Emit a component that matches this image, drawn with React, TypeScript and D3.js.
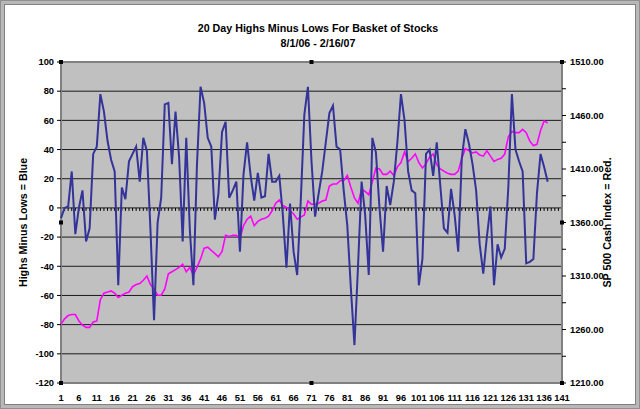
import React from "react";
import * as d3 from "d3";

const categoryCount = 141;
const categoryLabels = d3.range(1, 142, 5).map(String);
const leftTicks = [100, 80, 60, 40, 20, 0, -20, -40, -60, -80, -100, -120];
const rightTicks = [1510, 1485, 1460, 1435, 1410, 1385, 1360, 1335, 1310, 1285, 1260, 1235, 1210];
const rightLabels = [1510, 1460, 1410, 1360, 1310, 1260, 1210];

const highsMinusLows = [
  -7, 0, 1, 25, -18, 0, 12, -23, -14, 37,
  42, 78, 66, 46, 33, 25, -53, 14, 6, 32,
  37, 42, 18, 48, 39, -15, -77, -10, 7, 71,
  72, 30, 66, 35, -23, 48, -15, -53, 30, 83,
  72, 48, 42, -8, 10, 52, 59, 7, 12, 18,
  -30, 23, 45, 22, 5, 24, 7, 8, 37, 18,
  18, 22, -5, -41, 3, -30, -46, 5, 64, 83,
  32, -6, 10, 25, 45, 65, 70, 42, 40, 12,
  -12, -55, -94, -40, 18, -5, -46, 48, 38, 0,
  -30, 15, 2, 18, 45, 78, 60, 25, 12, 10,
  -53, -35, 37, 40, 22, 45, 15, -14, -17, 13,
  -5, -30, 34, 54, 44, 30, 12, -25, -45, -20,
  1, -53, -25, -34, -28, 14, 78, 40, 32, 25,
  -38, -37, -35, 10, 37, 28, 18,
];

const sp500 = [
  1265, 1270, 1273, 1274, 1274, 1268, 1264, 1262, 1262, 1267,
  1268, 1288, 1294, 1295, 1296, 1294, 1290, 1292, 1294, 1295,
  1300, 1302, 1303, 1306, 1310, 1302, 1298, 1292, 1292, 1298,
  1312, 1314, 1316, 1318, 1321, 1314, 1318, 1311, 1318, 1326,
  1336, 1337, 1334, 1331, 1328, 1333, 1348, 1347, 1348, 1348,
  1345, 1357, 1363, 1366, 1357, 1361, 1363, 1364, 1366, 1371,
  1378, 1381, 1376, 1374, 1371, 1368, 1363, 1365, 1367, 1380,
  1377, 1377, 1378, 1380, 1381, 1394, 1396, 1396, 1399, 1399,
  1404, 1393, 1383, 1378, 1391, 1389, 1386, 1398, 1411, 1410,
  1405, 1405, 1408, 1404, 1412, 1416, 1426, 1417, 1420, 1424,
  1416, 1411, 1415, 1421, 1424, 1414, 1410, 1408, 1406, 1405,
  1405, 1408, 1420, 1429, 1427, 1425, 1426, 1423, 1422, 1427,
  1422, 1417, 1419, 1420, 1424, 1440, 1445, 1444, 1444, 1447,
  1444, 1436, 1432, 1433, 1446, 1455, 1453,
];

const W = 640;
const H = 409;
const L = 61;
const R = 562;
const T = 62;
const B = 383;
const font = "'Liberation Sans', Arial, sans-serif";

export default function App() {
  const x = d3.scaleLinear().domain([1, categoryCount]).range([L, R]);
  const yL = d3.scaleLinear().domain([-120, 100]).range([B, T]);
  const yR = d3.scaleLinear().domain([1210, 1510]).range([B, T]);

  const blueLine = d3
    .line<number>()
    .x((_, i) => x(i + 1))
    .y((d) => yL(d))(highsMinusLows) as string;
  const pinkLine = d3
    .line<number>()
    .x((_, i) => x(i + 1))
    .y((d) => yR(d))(sp500) as string;

  const handles = [
    [L, T], [(L + R) / 2, T], [R, T],
    [L, (T + B) / 2], [R, (T + B) / 2],
    [L, B], [(L + R) / 2, B], [R, B],
  ];

  return (
    <svg
      width={W}
      height={H}
      style={{ position: "absolute", left: 0, top: 0, background: "#fff" }}
      fontFamily={font}
    >
      <rect x={0} y={0} width={W} height={H} fill="#fff" />
      <rect x={2} y={2} width={W - 4} height={H - 4} fill="none" stroke="#b8b8b8" strokeWidth={4} />
      <rect x={0.5} y={0.5} width={W - 1} height={H - 1} fill="none" stroke="#909090" strokeWidth={1} />
      <rect x={4.5} y={4.5} width={W - 9} height={H - 9} fill="none" stroke="#808080" strokeWidth={1} />

      <text x={318} y={32} textAnchor="middle" fontSize={10.7} fontWeight="bold">
        20 Day Highs Minus Lows For Basket of Stocks
      </text>
      <text x={318} y={47} textAnchor="middle" fontSize={10.7} fontWeight="bold">
        8/1/06 - 2/16/07
      </text>

      <rect x={L} y={T} width={R - L} height={B - T} fill="#c0c0c0" />
      {leftTicks.map((t) => (
        <line key={"g" + t} x1={L} x2={R} y1={yL(t)} y2={yL(t)} stroke="#1a1a1a" strokeWidth={1} />
      ))}
      {d3.range(1, categoryCount + 1).map((c) => (
        <line key={"ct" + c} x1={x(c)} x2={x(c)} y1={yL(0)} y2={yL(0) + 3} stroke="#000" strokeWidth={1} />
      ))}
      <rect x={L} y={T} width={R - L} height={B - T} fill="none" stroke="#808080" strokeWidth={2} />

      <path d={pinkLine} fill="none" stroke="#ff00ff" strokeWidth={1.6} />
      <path d={blueLine} fill="none" stroke="#333399" strokeWidth={2} />

      {leftTicks.map((t) => (
        <g key={"lt" + t}>
          <line x1={L - 4} x2={L} y1={yL(t)} y2={yL(t)} stroke="#000" />
          <text x={L - 7} y={yL(t)} dy="0.35em" textAnchor="end" fontSize={9.3} fontWeight="bold">
            {t}
          </text>
        </g>
      ))}
      {rightTicks.map((t) => (
        <line key={"rt" + t} x1={R} x2={R + 4} y1={yR(t)} y2={yR(t)} stroke="#000" />
      ))}
      {rightLabels.map((t) => (
        <text key={"rl" + t} x={R + 8} y={yR(t)} dy="0.35em" textAnchor="start" fontSize={9.3} fontWeight="bold">
          {t.toFixed(2)}
        </text>
      ))}
      {categoryLabels.map((c) => (
        <text key={"bl" + c} x={x(+c)} y={401} textAnchor="middle" fontSize={9.3} fontWeight="bold">
          {c}
        </text>
      ))}

      <text
        transform={`translate(27, ${(T + B) / 2}) rotate(-90)`}
        textAnchor="middle"
        fontSize={10.7}
        fontWeight="bold"
      >
        Highs Minus Lows = Blue
      </text>
      <text
        transform={`translate(611, ${(T + B) / 2}) rotate(-90)`}
        textAnchor="middle"
        fontSize={10.7}
        fontWeight="bold"
      >
        SP 500 Cash Index = Red.
      </text>

      {handles.map(([hx, hy], i) => (
        <rect key={"h" + i} x={hx - 2} y={hy - 2} width={4} height={4} fill="#000" />
      ))}
    </svg>
  );
}
